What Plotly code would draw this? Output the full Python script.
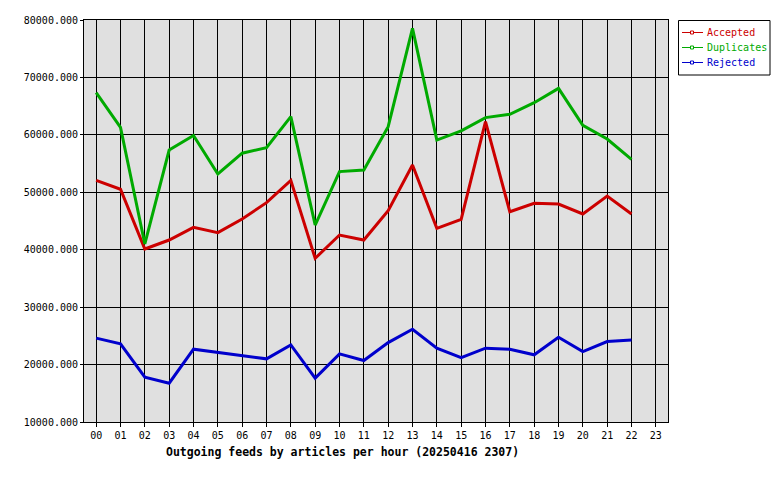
import plotly.graph_objects as go

hours = ["%02d" % h for h in range(24)]
accepted = [52080, 50520, 40130, 41690, 43900, 42970, 45350, 48190, 52080, 38500,
            42560, 41690, 46800, 54750, 43730, 45290, 62300, 46620, 48080, 47960,
            46220, 49350, 46220]
duplicates = [67340, 61310, 41000, 57360, 59900, 53185, 56800, 57770, 63170, 44300,
              53600, 53880, 61420, 78550, 59100, 60700, 63000, 63580, 65600, 68100,
              61660, 59280, 55740]
rejected = [24600, 23600, 17800, 16760, 22680, 22100, 21520, 21000, 23430, 17630,
            21860, 20700, 23830, 26160, 22850, 21220, 22850, 22680, 21700, 24770,
            22270, 24000, 24300]
y_ticks = [10000, 20000, 30000, 40000, 50000, 60000, 70000, 80000]
title_text = "Outgoing feeds by articles per hour (20250416 2307)"

FONT = "DejaVu Sans Mono"
series = [("Accepted", accepted, "#cc0000"),
          ("Duplicates", duplicates, "#00aa00"),
          ("Rejected", rejected, "#0000cc")]

# page offset (default body margin) and plot area in page pixels
OFF = 8
L, R, T, B = 84, 668, 20, 422
W, H = 780 - OFF, 480 - OFF


def px(x):
    return (x - L) / (R - L)


def py(y):
    return (B - y) / (B - T)


fig = go.Figure()
for name, vals, col in series:
    fig.add_trace(go.Scatter(
        x=list(range(len(vals))), y=vals, mode="lines", name=name,
        line=dict(color=col, width=3), showlegend=False,
    ))

shapes = []
annotations = []
# custom legend box
shapes.append(dict(type="rect", xref="paper", yref="paper",
                   x0=px(678.5), x1=px(770), y0=py(20.5), y1=py(75),
                   line=dict(color="black", width=1), fillcolor="white"))
for i, (name, vals, col) in enumerate(series):
    yy = 32.5 + 15 * i
    shapes.append(dict(type="line", xref="paper", yref="paper",
                       x0=px(682), x1=px(703), y0=py(yy), y1=py(yy),
                       line=dict(color=col, width=1)))
    shapes.append(dict(type="rect", xref="paper", yref="paper",
                       x0=px(690.5), x1=px(693.5), y0=py(yy - 1.5), y1=py(yy + 1.5),
                       line=dict(color=col, width=1), fillcolor="white"))
    annotations.append(dict(text=name, xref="paper", yref="paper",
                            x=px(705), y=py(yy), xanchor="left", yanchor="middle",
                            showarrow=False,
                            font=dict(family=FONT, size=10, color=col)))

annotations.append(dict(text="<b>%s</b>" % title_text, xref="paper", yref="paper",
                        x=px(342.5), y=py(452),
                        xanchor="center", yanchor="middle", showarrow=False,
                        font=dict(family=FONT, size=11.5, color="black")))

fig.update_layout(
    width=W, height=H,
    margin=dict(l=L - OFF, r=W - (R - OFF), t=T - OFF, b=H - (B - OFF),
                autoexpand=False),
    paper_bgcolor="white", plot_bgcolor="#e0e0e0",
    font=dict(family=FONT, size=10, color="black"),
    showlegend=False,
    shapes=shapes, annotations=annotations,
)
fig.update_xaxes(range=[-0.5, 23.5], tickvals=list(range(24)), ticktext=hours,
                 showgrid=True, gridcolor="black", gridwidth=1,
                 showline=True, linecolor="black", linewidth=1, mirror=True,
                 ticks="outside", ticklen=4, tickcolor="black", zeroline=False,
                 automargin=False, tickfont=dict(family=FONT, size=10))
fig.update_yaxes(range=[10000, 80000], tickvals=y_ticks, tickformat=".3f",
                 showgrid=True, gridcolor="black", gridwidth=1,
                 showline=True, linecolor="black", linewidth=1, mirror=True,
                 ticks="outside", ticklen=3, tickcolor="black", zeroline=False,
                 automargin=False, tickfont=dict(family=FONT, size=10))

fig.write_html("out.html")
